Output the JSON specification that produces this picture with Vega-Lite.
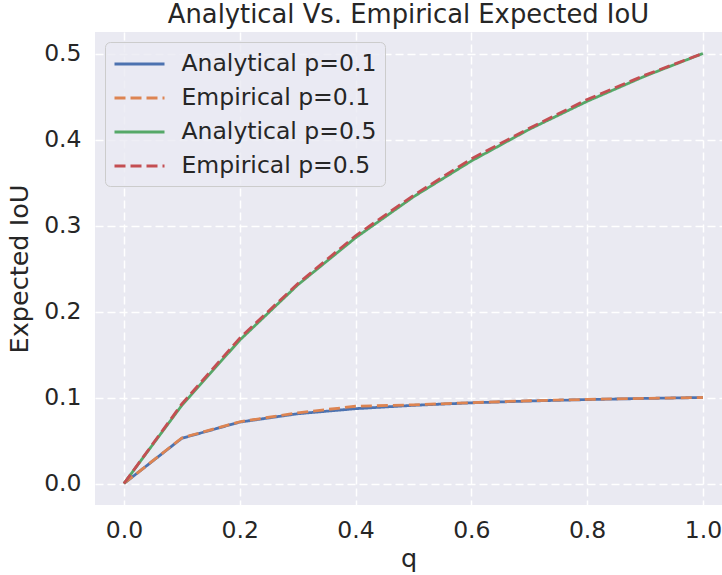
{
  "$schema": "https://vega.github.io/schema/vega-lite/v6.json",
  "width": 627,
  "height": 473,
  "autosize": {"type": "none"},
  "padding": {"left": 95, "top": 32, "right": 0, "bottom": 70},
  "background": "white",
  "title": {"text": "Analytical Vs. Empirical Expected IoU", "fontSize": 25.8, "font": "DejaVu Sans", "fontWeight": "normal", "color": "#262626", "anchor": "middle", "offset": 3},
  "data": {"values": [
    {"series": "Analytical p=0.1", "q": 0.0, "iou": 0.0},
    {"series": "Analytical p=0.1", "q": 0.1, "iou": 0.0526},
    {"series": "Analytical p=0.1", "q": 0.2, "iou": 0.0714},
    {"series": "Analytical p=0.1", "q": 0.3, "iou": 0.0811},
    {"series": "Analytical p=0.1", "q": 0.4, "iou": 0.0870},
    {"series": "Analytical p=0.1", "q": 0.5, "iou": 0.0909},
    {"series": "Analytical p=0.1", "q": 0.6, "iou": 0.0938},
    {"series": "Analytical p=0.1", "q": 0.7, "iou": 0.0959},
    {"series": "Analytical p=0.1", "q": 0.8, "iou": 0.0976},
    {"series": "Analytical p=0.1", "q": 0.9, "iou": 0.0989},
    {"series": "Analytical p=0.1", "q": 1.0, "iou": 0.1000},
    {"series": "Empirical p=0.1", "q": 0.0, "iou": 0.0},
    {"series": "Empirical p=0.1", "q": 0.1, "iou": 0.0530},
    {"series": "Empirical p=0.1", "q": 0.2, "iou": 0.0718},
    {"series": "Empirical p=0.1", "q": 0.3, "iou": 0.0822},
    {"series": "Empirical p=0.1", "q": 0.4, "iou": 0.0898},
    {"series": "Empirical p=0.1", "q": 0.5, "iou": 0.0915},
    {"series": "Empirical p=0.1", "q": 0.6, "iou": 0.0940},
    {"series": "Empirical p=0.1", "q": 0.7, "iou": 0.0962},
    {"series": "Empirical p=0.1", "q": 0.8, "iou": 0.0978},
    {"series": "Empirical p=0.1", "q": 0.9, "iou": 0.0990},
    {"series": "Empirical p=0.1", "q": 1.0, "iou": 0.1000},
    {"series": "Analytical p=0.5", "q": 0.0, "iou": 0.0},
    {"series": "Analytical p=0.5", "q": 0.1, "iou": 0.0909},
    {"series": "Analytical p=0.5", "q": 0.2, "iou": 0.1667},
    {"series": "Analytical p=0.5", "q": 0.3, "iou": 0.2308},
    {"series": "Analytical p=0.5", "q": 0.4, "iou": 0.2857},
    {"series": "Analytical p=0.5", "q": 0.5, "iou": 0.3333},
    {"series": "Analytical p=0.5", "q": 0.6, "iou": 0.3750},
    {"series": "Analytical p=0.5", "q": 0.7, "iou": 0.4118},
    {"series": "Analytical p=0.5", "q": 0.8, "iou": 0.4444},
    {"series": "Analytical p=0.5", "q": 0.9, "iou": 0.4737},
    {"series": "Analytical p=0.5", "q": 1.0, "iou": 0.5000},
    {"series": "Empirical p=0.5", "q": 0.0, "iou": 0.0},
    {"series": "Empirical p=0.5", "q": 0.1, "iou": 0.0925},
    {"series": "Empirical p=0.5", "q": 0.2, "iou": 0.1690},
    {"series": "Empirical p=0.5", "q": 0.3, "iou": 0.2322},
    {"series": "Empirical p=0.5", "q": 0.4, "iou": 0.2880},
    {"series": "Empirical p=0.5", "q": 0.5, "iou": 0.3350},
    {"series": "Empirical p=0.5", "q": 0.6, "iou": 0.3775},
    {"series": "Empirical p=0.5", "q": 0.7, "iou": 0.4130},
    {"series": "Empirical p=0.5", "q": 0.8, "iou": 0.4465},
    {"series": "Empirical p=0.5", "q": 0.9, "iou": 0.4748},
    {"series": "Empirical p=0.5", "q": 1.0, "iou": 0.5002}
  ]},
  "mark": {"type": "line", "strokeWidth": 2.8, "clip": true},
  "encoding": {
    "x": {"field": "q", "type": "quantitative",
      "scale": {"domain": [-0.05, 1.033], "nice": false, "zero": false},
      "axis": {"values": [0, 0.2, 0.4, 0.6, 0.8, 1.0], "format": ".1f", "title": "q", "labelPadding": 13, "titlePadding": 5}},
    "y": {"field": "iou", "type": "quantitative",
      "scale": {"domain": [-0.025, 0.525], "nice": false, "zero": false},
      "axis": {"values": [0, 0.1, 0.2, 0.3, 0.4, 0.5], "format": ".1f", "title": "Expected IoU", "labelPadding": 14, "titlePadding": 11}},
    "color": {"field": "series", "type": "nominal",
      "scale": {"domain": ["Analytical p=0.1", "Empirical p=0.1", "Analytical p=0.5", "Empirical p=0.5"],
                "range": ["#4C72B0", "#DD8452", "#55A868", "#C44E52"]},
      "legend": {"title": null, "orient": "none", "legendX": 10, "legendY": 10}},
    "strokeDash": {"field": "series", "type": "nominal",
      "scale": {"domain": ["Analytical p=0.1", "Empirical p=0.1", "Analytical p=0.5", "Empirical p=0.5"],
                "range": [[1, 0], [11, 5], [1, 0], [11, 5]]},
      "legend": {"title": null, "orient": "none", "legendX": 10, "legendY": 10}}
  },
  "config": {
    "view": {"fill": "#EAEAF2", "stroke": null},
    "axis": {"domain": false, "ticks": false, "grid": true, "gridColor": "white", "gridDash": [8, 4], "gridWidth": 1.5,
      "labelFont": "DejaVu Sans", "labelFontSize": 23.5, "labelColor": "#262626",
      "titleFont": "DejaVu Sans", "titleFontSize": 25.5, "titleFontWeight": "normal", "titleColor": "#262626"},
    "legend": {"fillColor": "rgba(234,234,242,0.8)", "strokeColor": "#CCCCCC", "cornerRadius": 5, "padding": 8,
      "labelFont": "DejaVu Sans", "labelFontSize": 23.5, "labelColor": "#262626", "labelOffset": 28,
      "symbolType": "M-2,0H2", "symbolSize": 625, "symbolOffset": 12.5, "symbolStrokeWidth": 3, "rowPadding": 8, "labelLimit": 400}
  }
}
